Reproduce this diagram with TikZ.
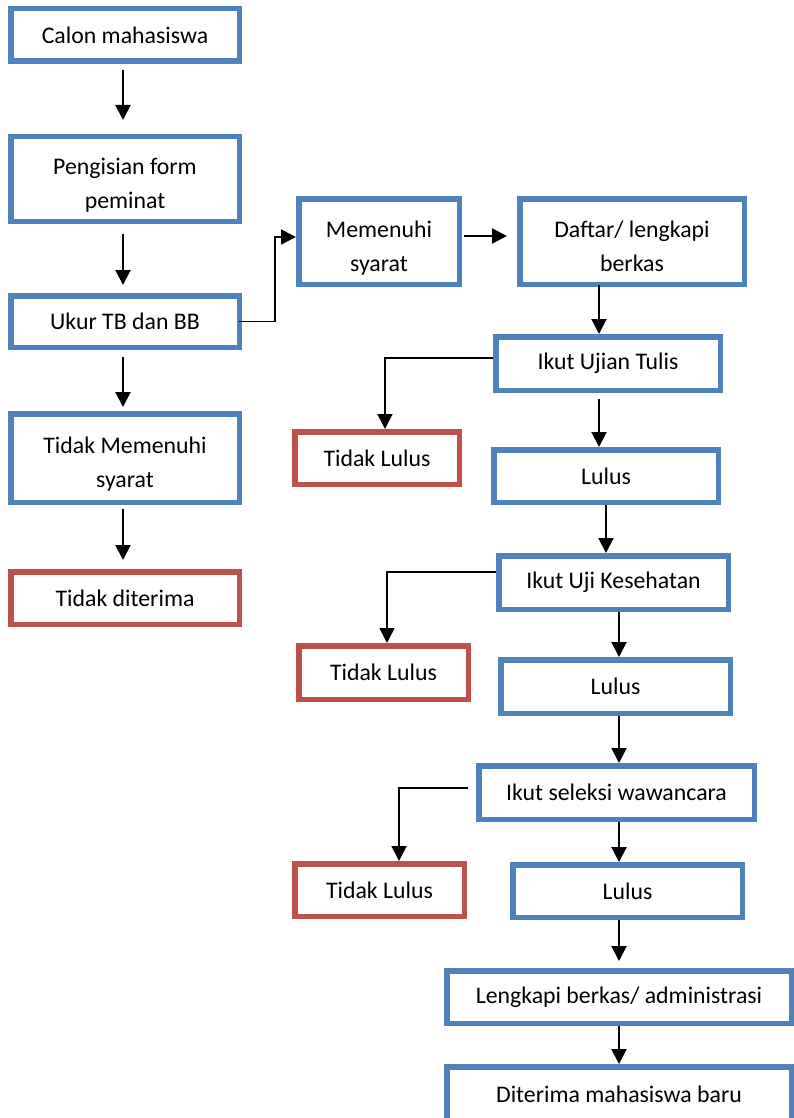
\documentclass[tikz,border=0pt]{standalone}
\usepackage{fontspec}
\setmainfont{Carlito}
\usepackage{tikz}
\usetikzlibrary{arrows.meta,positioning,calc}
\tikzset{every node/.append style={align=center}}
\definecolor{boxblue}{RGB}{79, 129, 189}
\definecolor{boxred}{RGB}{192, 80, 77}
\newcommand{\twoline}[2]{\raisebox{-6pt}[\height][\depth]{\begin{tabular}{@{}c@{}}#1\\#2\end{tabular}}}

\begin{document}
\begin{tikzpicture}[
    x=1pt, y=-1pt,
    stepbox/.style={draw=boxblue, line width=5.5pt, fill=white, minimum height=52.5pt, inner sep=2pt, font=\fontsize{23.8}{34}\selectfont},
    failbox/.style={stepbox, draw=boxred},
    flow/.style={-{Triangle[width=15pt,length=15pt]}, line width=2pt},
    branch/.style={flow, line width=1.6pt}
]
    \useasboundingbox (0,0) rectangle (794,1118);

    % Left column
    \node[stepbox, minimum width=228.5pt] (calon) at (125, 35) {Calon mahasiswa};
    \node[stepbox, minimum width=228.5pt, minimum height=84.5pt] (form) at (125, 179) {\twoline{Pengisian form}{peminat}};
    \node[stepbox, minimum width=228.5pt, minimum height=51.5pt] (ukur) at (125, 321.5) {Ukur TB dan BB};
    \node[stepbox, minimum width=228.5pt, minimum height=88.5pt] (tdkmem) at (125, 458) {\twoline{Tidak Memenuhi}{syarat}};
    \node[failbox, minimum width=228.5pt] (tdkterima) at (125, 598) {Tidak diterima};

    % Right column
    \node[stepbox, minimum width=160.5pt, minimum height=85.5pt] (memenuhi) at (379, 241.5) {\twoline{Memenuhi}{syarat}};
    \node[stepbox, minimum width=224.5pt, minimum height=85.5pt] (daftar) at (632, 241.5) {\twoline{Daftar/ lengkapi}{berkas}};
    \node[stepbox, minimum width=224.5pt, minimum height=53.5pt] (ujian) at (608, 363.5) {Ikut Ujian Tulis};
    \node[failbox, minimum width=164.5pt] (tlulus1) at (377, 458) {Tidak Lulus};
    \node[stepbox, minimum width=224.5pt] (lulus1) at (606, 476) {Lulus};
    \node[stepbox, minimum width=229.5pt, minimum height=53.5pt] (sehat) at (613.5, 582.5) {Ikut Uji Kesehatan};
    \node[failbox, minimum width=169.5pt, minimum height=53.5pt] (tlulus2) at (383.5, 672.5) {Tidak Lulus};
    \node[stepbox, minimum width=229.5pt, minimum height=53.5pt] (lulus2) at (615.5, 686.5) {Lulus};
    \node[stepbox, minimum width=275.5pt, minimum height=53.5pt] (wawancara) at (616.5, 792.5) {Ikut seleksi wawancara};
    \node[failbox, minimum width=169.5pt] (tlulus3) at (379.5, 890) {Tidak Lulus};
    \node[stepbox, minimum width=229.5pt] (lulus3) at (627.5, 891) {Lulus};
    \node[stepbox, minimum width=344.5pt] (lengkapi) at (619, 997) {Lengkapi berkas/ administrasi};
    \node[stepbox, minimum width=344.5pt, minimum height=54.5pt] (diterima) at (619, 1094) {Diterima mahasiswa baru};

    % Flows
    \draw[flow] ([xshift=-2pt,yshift=-6pt]calon.south) -- ([xshift=-2pt,yshift=14pt]form.north);
    \draw[flow] ([xshift=-2pt,yshift=-10pt]form.south) -- ([xshift=-2pt,yshift=8pt]ukur.north);
    \draw[flow] ([xshift=-2pt,yshift=-7pt]ukur.south) -- ([xshift=-2pt,yshift=4pt]tdkmem.north);
    \draw[flow] ([xshift=-2pt,yshift=-4pt]tdkmem.south) -- ([xshift=-2pt,yshift=9pt]tdkterima.north);
    \draw[branch] ([xshift=-3pt]ukur.east) -- ++(36,0) |- ([yshift=4.5pt]memenuhi.west);
    \draw[flow] ([xshift=2pt,yshift=5.5pt]memenuhi.east) -- ([xshift=-10pt,yshift=5.5pt]daftar.west);
    \draw[flow] ([xshift=-33pt,yshift=2pt]daftar.south) -- ([xshift=-9pt]ujian.north);
    \draw[branch] ([yshift=5.5pt]ujian.west) -| ([xshift=8pt]tlulus1.north);
    \draw[flow] ([xshift=-9pt,yshift=-6pt]ujian.south) -- ([xshift=-7pt]lulus1.north);
    \draw[flow] (lulus1.south) -- ([xshift=-7.5pt]sehat.north);
    \draw[branch] ([yshift=10.5pt]sehat.west) -| ([xshift=3.5pt]tlulus2.north);
    \draw[flow] ([xshift=5.5pt]sehat.south) -- ([xshift=3.5pt]lulus2.north);
    \draw[flow] ([xshift=3.5pt]lulus2.south) -- ([xshift=2.5pt]wawancara.north);
    \draw[branch] ([xshift=-8pt,yshift=4.5pt]wawancara.west) -| ([xshift=19.5pt]tlulus3.north);
    \draw[flow] ([xshift=2.5pt]wawancara.south) -- ([xshift=-8.5pt]lulus3.north);
    \draw[flow] ([xshift=-8.5pt]lulus3.south) -- ([yshift=7pt]lengkapi.north);
    \draw[flow] (lengkapi.south) -- (diterima.north);

\end{tikzpicture}
\end{document}
